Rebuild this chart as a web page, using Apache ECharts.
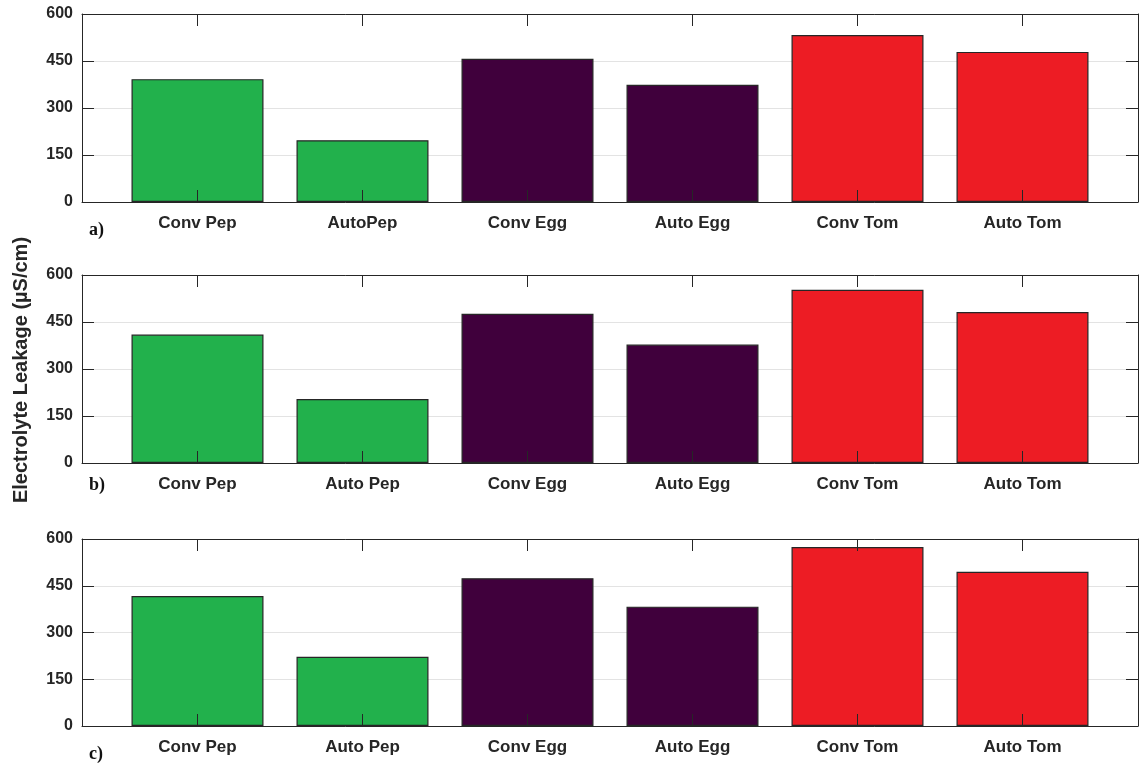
<!DOCTYPE html>
<html>
<head>
<meta charset="utf-8">
<script src="https://cdn.jsdelivr.net/npm/echarts@6/dist/echarts.min.js"></script>
<style>
html,body{margin:0;padding:0;background:#fff;}
#chart{width:1140px;height:765px;}
</style>
</head>
<body>
<div id="chart"></div>
<script>
// ---- data ----
const categoriesA = ['Conv Pep', 'AutoPep', 'Conv Egg', 'Auto Egg', 'Conv Tom', 'Auto Tom'];
const categoriesB = ['Conv Pep', 'Auto Pep', 'Conv Egg', 'Auto Egg', 'Conv Tom', 'Auto Tom'];
const categoriesC = ['Conv Pep', 'Auto Pep', 'Conv Egg', 'Auto Egg', 'Conv Tom', 'Auto Tom'];
const valuesA = [392, 197, 457, 374, 533, 479];
const valuesB = [410, 204, 476, 378, 553, 482];
const valuesC = [417, 222, 474, 383, 574, 495];
const positions = [1, 2, 3, 4, 5, 6];
const yTicks = [0, 150, 300, 450, 600];
const panelLabels = ['a)', 'b)', 'c)'];
const yTitle = 'Electrolyte Leakage (\u00b5S/cm)';

// ---- styles ----
const barColors = ['#22B14C', '#22B14C', '#40003C', '#40003C', '#ED1C24', '#ED1C24'];
const axisColor = '#262626';
const fontFam = '"Liberation Sans", Arial, sans-serif';
const yLabelFont = { fontFamily: fontFam, fontWeight: 'bold', fontSize: 16, color: '#262626' };
const xLabelFont = { fontFamily: fontFam, fontWeight: 'bold', fontSize: 17, color: '#262626' };
const panels = [
  { top: 14, height: 188, cats: categoriesA, vals: valuesA, labelY: 230 },
  { top: 275, height: 188, cats: categoriesB, vals: valuesB, labelY: 485 },
  { top: 539, height: 187, cats: categoriesC, vals: valuesC, labelY: 754 }
];

const grid = [], xAxis = [], yAxis = [], series = [], graphic = [];
panels.forEach((p, i) => {
  grid.push({ left: 82, right: 2, top: p.top, height: p.height, containLabel: false });
  const xBase = {
    type: 'value', gridIndex: i, min: 0.3, max: 6.7, z: 5,
    axisLine: { show: true, onZero: false, lineStyle: { color: axisColor, width: 1 } },
    axisTick: { show: true, inside: true, length: 12, customValues: positions, lineStyle: { color: axisColor, width: 1 } },
    splitLine: { show: false }
  };
  xAxis.push(Object.assign({}, xBase, {
    position: 'bottom',
    axisLabel: Object.assign({ show: true, margin: 13, customValues: positions,
      formatter: v => p.cats[Math.round(v) - 1] }, xLabelFont)
  }));
  xAxis.push(Object.assign({}, xBase, { position: 'top', axisLabel: { show: false } }));
  const yBase = {
    type: 'value', gridIndex: i, min: yTicks[0], max: yTicks[yTicks.length - 1], interval: yTicks[1] - yTicks[0],
    axisLine: { show: true, lineStyle: { color: axisColor, width: 1 } },
    axisTick: { show: true, inside: true, length: 12, lineStyle: { color: axisColor, width: 1 } }
  };
  yAxis.push(Object.assign({}, yBase, {
    position: 'left',
    splitLine: { show: true, lineStyle: { color: '#E3E3E3', width: 1 } },
    axisLabel: Object.assign({ show: true, margin: 9 }, yLabelFont)
  }));
  yAxis.push(Object.assign({}, yBase, {
    position: 'right', splitLine: { show: false }, axisLabel: { show: false }
  }));
  series.push({
    type: 'bar', xAxisIndex: i * 2, yAxisIndex: i * 2, barWidth: 132,
    data: positions.map((x, k) => [x, p.vals[k]]),
    itemStyle: {
      color: params => barColors[params.dataIndex],
      borderColor: '#262626', borderWidth: 1.2
    },
    animation: false
  });
  graphic.push({
    type: 'text', x: 89, y: p.labelY,
    style: { text: panelLabels[i], font: 'bold 18px "Liberation Serif", "Times New Roman", serif',
      fill: '#111', textAlign: 'left', textVerticalAlign: 'middle' }
  });
});
graphic.push({
  type: 'text', x: 21, y: 370, rotation: Math.PI / 2,
  style: { text: yTitle, font: 'bold 20px "Liberation Sans", Arial, sans-serif',
    fill: '#262626', textAlign: 'center', textVerticalAlign: 'middle' }
});

const chart = echarts.init(document.getElementById('chart'), null, { renderer: 'canvas' });
chart.setOption({
  backgroundColor: '#fff',
  animation: false,
  grid, xAxis, yAxis, series, graphic
});
</script>
</body>
</html>
